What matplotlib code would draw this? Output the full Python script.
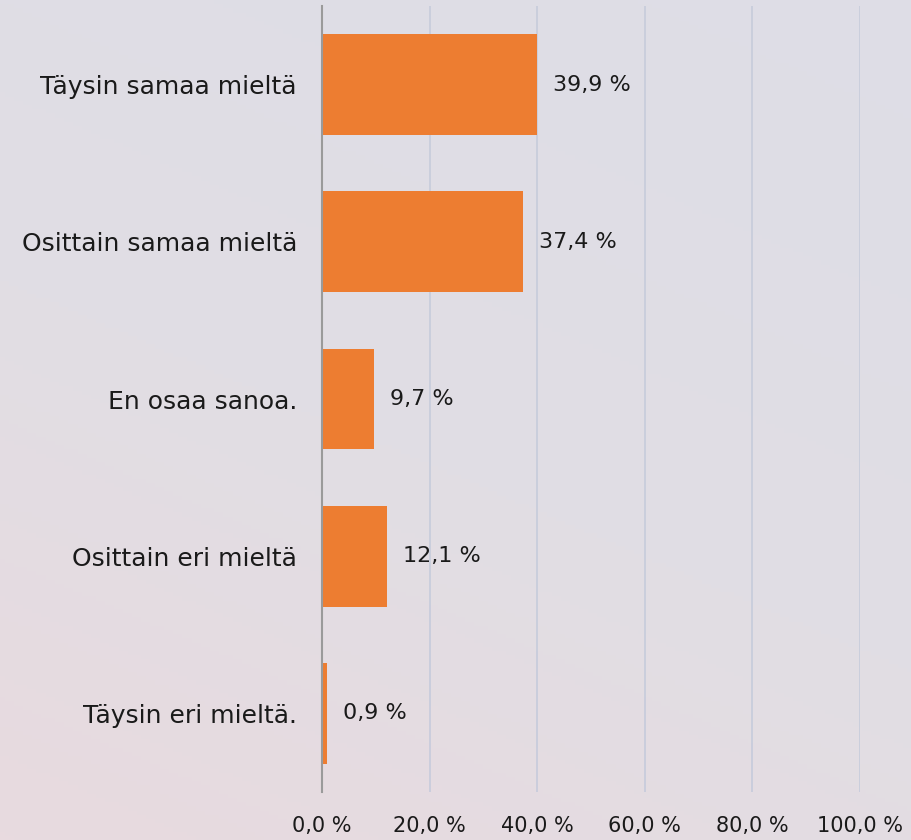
import numpy as np
import matplotlib.pyplot as plt
from matplotlib.colors import LinearSegmentedColormap

categories = ['Täysin samaa mieltä', 'Osittain samaa mieltä', 'En osaa sanoa.',
              'Osittain eri mieltä', 'Täysin eri mieltä.']
values = [39.9, 37.4, 9.7, 12.1, 0.9]
xticks = [0, 20, 40, 60, 80, 100]

def fmt(v):
    return ('%.1f %%' % v).replace('.', ',')

plt.rcParams['font.family'] = ['DejaVu Sans']

fig = plt.figure(figsize=(9.12, 8.4), dpi=100)

# background gradient (greyish lavender top-right -> pinkish bottom-left)
bg = fig.add_axes([0, 0, 1, 1], zorder=-10)
yy, xx = np.mgrid[0:1:200j, 0:1:200j]
t = np.clip(0.75 * yy + 0.35 * (1 - xx) - 0.1, 0, 1)
cmap = LinearSegmentedColormap.from_list('bg', ['#DEDDE6', '#E1DEE4', '#E8DADF'])
bg.imshow(t, cmap=cmap, aspect='auto', extent=[0, 1, 0, 1], vmin=0, vmax=1)
bg.axis('off')

ax = fig.add_axes([322 / 912, 1 - 792 / 840, (860 - 322) / 912, (792 - 6) / 840])
ax.patch.set_alpha(0)

y = np.arange(len(categories))
ax.barh(y, values, height=0.64, color='#ED7D31', zorder=3)
ax.set_ylim(len(categories) - 0.5, -0.5)
ax.set_xlim(0, 100)

for yi, v in zip(y, values):
    ax.annotate(fmt(v), (v, yi), xytext=(11.5, 0), textcoords='offset points',
                va='center', ha='left', fontsize=16, color='#1A1A1A')

ax.set_yticks(y)
ax.set_yticklabels(categories, fontsize=18, color='#1A1A1A')
ax.set_xticks(xticks)
ax.set_xticklabels([fmt(v) for v in xticks], fontsize=15, color='#1A1A1A')
ax.tick_params(axis='both', length=0)
ax.tick_params(axis='y', pad=18)
ax.tick_params(axis='x', pad=17)

ax.grid(axis='x', color='#C6CBDB', linewidth=1.2, zorder=0)
for s in ['top', 'right', 'bottom']:
    ax.spines[s].set_visible(False)
ax.spines['left'].set_color('#9A9A9A')
ax.spines['left'].set_linewidth(1.5)
ax.spines['left'].set_zorder(4)

fig.savefig('out.png', dpi=100)
